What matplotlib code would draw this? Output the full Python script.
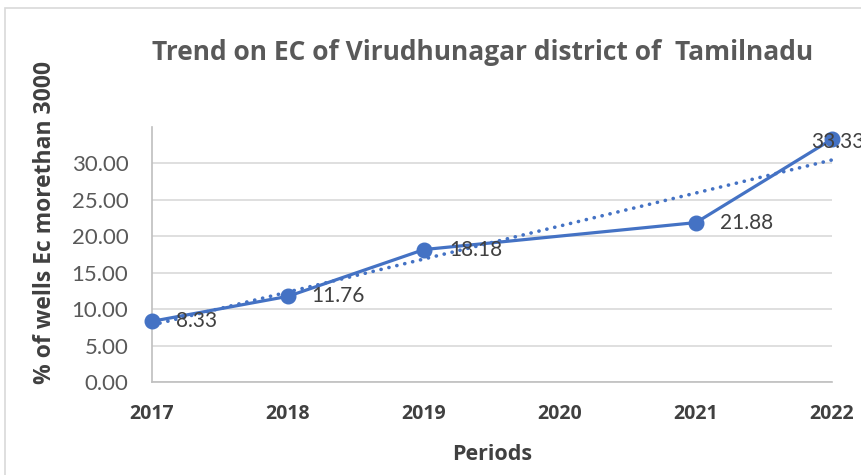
import numpy as np
import matplotlib
matplotlib.use("Agg")
import matplotlib.pyplot as plt
from matplotlib.patches import Rectangle

# data (2020 has no value)
periods = [2017, 2018, 2019, 2020, 2021, 2022]
years = [2017, 2018, 2019, 2021, 2022]
ec_pct = [8.33, 11.76, 18.18, 21.88, 33.33]
label_offsets = [(17, 0), (17, 0), (18, 0), (17, 0), (-15, -2)]

plt.rcParams['font.family'] = ['Lato', 'DejaVu Sans']
bold_font = ['Open Sans', 'DejaVu Sans']

blue = '#4472C4'
fig = plt.figure(figsize=(8.61, 4.75), dpi=100)
ax = fig.add_axes([152 / 861, 1 - 382 / 475, 680 / 861, 255 / 475])

# outer chart frame
fig.patches.append(Rectangle((5 / 861, -0.05), 1.2, 1 - 8 / 475 + 0.05,
                             transform=fig.transFigure, fill=False,
                             edgecolor='#D9D9D9', linewidth=1.2))

ax.plot(years, ec_pct, color=blue, linewidth=2.3, marker='o', markersize=10.5,
        zorder=3, clip_on=False)

# linear trendline like excel
slope, intercept = np.polyfit(years, ec_pct, 1)
trend = [slope * p + intercept for p in periods]
ax.plot(periods, trend, color=blue, linewidth=2.6, linestyle=(0, (0.05, 2.2)),
        dash_capstyle='round', zorder=2, clip_on=False)

for x, y, off in zip(years, ec_pct, label_offsets):
    ax.annotate(f"{y:.2f}", (x, y), xytext=off, textcoords='offset points',
                ha='left', va='center', fontsize=15, color='#404040',
                annotation_clip=False, zorder=4)

ax.set_xlim(2017, 2022)
ax.set_ylim(0, 35)
ax.set_xticks(periods)
ax.set_xticklabels([str(p) for p in periods], fontweight='bold', fontsize=14,
                   color='#404040', family=bold_font)
ax.set_yticks(np.arange(0, 31, 5))
ax.set_yticklabels([f"{v:.2f}" for v in np.arange(0, 31, 5)], fontsize=16, color='#595959')
ax.tick_params(axis='y', length=0, pad=17)
ax.tick_params(axis='x', length=0, pad=16)
ax.grid(axis='y', color='#D9D9D9', linewidth=1.2)
ax.set_axisbelow(True)
for side in ['top', 'right']:
    ax.spines[side].set_visible(False)
for side in ['left', 'bottom']:
    ax.spines[side].set_color('#BFBFBF')
    ax.spines[side].set_linewidth(1.2)

fig.text(483 / 861, 1 - 52 / 475, "Trend on EC of Virudhunagar district of  Tamilnadu",
         ha='center', va='center', fontsize=19, fontweight='bold', color='#595959',
         family=bold_font)
fig.text(492 / 861, 1 - 455 / 475, "Periods", ha='center', va='center',
         fontsize=15.5, fontweight='bold', color='#404040', family=bold_font)
fig.text(45 / 861, 1 - 222 / 475, "% of wells Ec morethan 3000", ha='center', va='center',
         rotation=90, fontsize=16.5, fontweight='bold', color='#404040', family=bold_font)

fig.savefig('out.png', dpi=100)
